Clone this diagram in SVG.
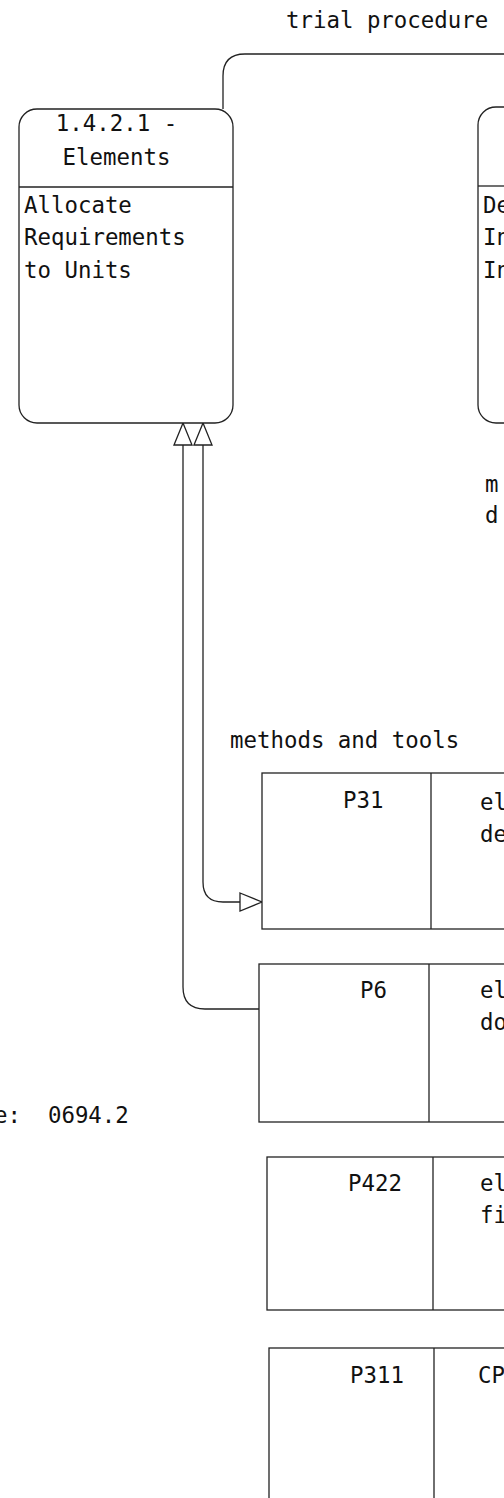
<svg xmlns="http://www.w3.org/2000/svg" width="504" height="1498" viewBox="0 0 504 1498">
<style>
  .t { font-family: "DejaVu Sans Mono", "Liberation Mono", monospace; font-size: 22.4px; fill: #111; }
  .box { fill: #fff; stroke: #222; stroke-width: 1.3; }
  .ln { fill: none; stroke: #222; stroke-width: 1.3; }
</style>
<defs>
  <marker id="tri" viewBox="0 0 24 20" refX="23" refY="10" markerWidth="24" markerHeight="20" markerUnits="userSpaceOnUse" orient="auto-start-reverse">
    <path d="M1,1 L23,10 L1,19 Z" fill="#fff" stroke="#222" stroke-width="1.3"/>
  </marker>
</defs>
<rect width="504" height="1498" fill="#fff"/>

<g id="connectors">
  <path class="ln" d="M223,109 V76 Q223,54 245,54 H510"/>
  <text class="t" x="286" y="28">trial procedure</text>
  <path class="ln" d="M203,423 V882 Q203,902 223,902 H262" marker-start="url(#tri)" marker-end="url(#tri)"/>
  <path class="ln" d="M183,423 V987 Q183,1009 205,1009 H259" marker-start="url(#tri)"/>
  <text class="t" x="230" y="748">methods and tools</text>
  <text class="t" x="485" y="492">m</text>
  <text class="t" x="485" y="523">d</text>
</g>

<g id="node-1421">
  <rect class="box" x="19" y="109" width="214" height="314" rx="18" ry="18"/>
  <line class="ln" x1="19" y1="187" x2="233" y2="187"/>
  <text class="t" x="116.5" y="131" text-anchor="middle">1.4.2.1 -</text>
  <text class="t" x="116.5" y="165" text-anchor="middle">Elements</text>
  <text class="t" x="24" y="213">Allocate</text>
  <text class="t" x="24" y="245">Requirements</text>
  <text class="t" x="24" y="278">to Units</text>
</g>

<g id="node-right">
  <rect class="box" x="478" y="107" width="214" height="316" rx="18" ry="18"/>
  <line class="ln" x1="478" y1="186" x2="510" y2="186"/>
  <text class="t" x="483" y="213">De</text>
  <text class="t" x="483" y="245">In</text>
  <text class="t" x="483" y="278">In</text>
</g>

<g id="node-P31">
  <rect class="box" x="262" y="773" width="400" height="156"/>
  <line class="ln" x1="431" y1="773" x2="431" y2="929"/>
  <text class="t" x="343" y="808">P31</text>
  <text class="t" x="480" y="810">el</text>
  <text class="t" x="480" y="842">de</text>
</g>

<g id="node-P6">
  <rect class="box" x="259" y="964" width="400" height="158"/>
  <line class="ln" x1="429" y1="964" x2="429" y2="1122"/>
  <text class="t" x="360" y="998">P6</text>
  <text class="t" x="480" y="998">el</text>
  <text class="t" x="480" y="1030">do</text>
</g>

<g id="node-P422">
  <rect class="box" x="267" y="1157" width="400" height="153"/>
  <line class="ln" x1="433" y1="1157" x2="433" y2="1310"/>
  <text class="t" x="348" y="1191">P422</text>
  <text class="t" x="480" y="1191">el</text>
  <text class="t" x="480" y="1223">fi</text>
</g>

<g id="node-P311">
  <rect class="box" x="269" y="1348" width="400" height="200"/>
  <line class="ln" x1="434" y1="1348" x2="434" y2="1500"/>
  <text class="t" x="350" y="1383">P311</text>
  <text class="t" x="478" y="1383">CP</text>
</g>

<text class="t" x="-6" y="1123" xml:space="preserve" style="white-space:pre">e:  0694.2</text>
</svg>
